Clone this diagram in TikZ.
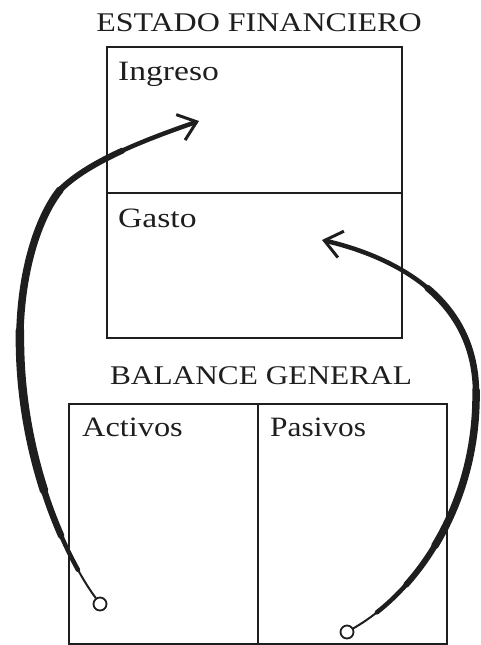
\documentclass[tikz,border=0pt]{standalone}
\usepackage{fontspec}
\setmainfont{Liberation Serif}
\usetikzlibrary{arrows.meta}
\definecolor{ink}{HTML}{1E1E1E}
\begin{document}
\begin{tikzpicture}[x=1pt,y=-1pt,
  panel/.style={draw=ink, line width=1.8pt, anchor=north west, inner sep=0pt},
  lbl/.style={anchor=base west, inner sep=0pt, text=ink, font=\fontsize{28}{30}\selectfont},
  ttl/.style={anchor=base, inner sep=0pt, text=ink, font=\fontsize{27}{30}\selectfont},
  dot/.style={circle, draw=ink, line width=1.8pt, minimum size=13pt, inner sep=0pt, fill=white},
  brush/.style={draw=ink, line cap=round, line join=round},
  tip/.style={-{Straight Barb[length=17pt, width=27pt, line width=3pt]}}
]
\useasboundingbox (0,0) rectangle (481,645);
% titles
\node[ttl] (t1) at (259,31) {\scalebox{1.185}[1]{ESTADO FINANCIERO}};
\node[ttl] (t2) at (261,384) {\scalebox{1.16}[1]{BALANCE GENERAL}};
% boxes
\node[panel, minimum width=295pt, minimum height=146pt] (ing) at (106,46) {};
\node[panel, minimum width=295pt, minimum height=145pt] (gas) at (106,192) {};
\node[panel, minimum width=189pt, minimum height=240pt] (act) at (68,403) {};
\node[panel, minimum width=189pt, minimum height=240pt] (pas) at (257,403) {};
% labels
\node[lbl] (lIng) at (118,80) {\scalebox{1.2}[1]{Ingreso}};
\node[lbl] (lGas) at (118,227) {\scalebox{1.2}[1]{Gasto}};
\node[lbl] (lAct) at (82,436) {\scalebox{1.155}[1]{Activos}};
\node[lbl] (lPas) at (270,436) {\scalebox{1.12}[1]{Pasivos}};
% endpoints
\node[dot] (c1) at (100,604) {};
\node[dot] (c2) at (347,632) {};
\coordinate (h1) at (199,121);
\coordinate (h2) at (322,240);
% joints of the left brush stroke
\coordinate (la) at (77.94,569.79);
\coordinate (lb) at (61.13,535.66);
\coordinate (lbb) at (44.03,490.48);
\coordinate (lc) at (20,330);
\coordinate (ld) at (60,190);
\coordinate (le) at (122.375,150.625);
% joints of the right brush stroke
\coordinate (ra) at (376.92,612.33);
\coordinate (rb) at (406.2,584.67);
\coordinate (rbb) at (434.86,545.71);
\coordinate (rc) at (476,390);
\coordinate (rd) at (427.5,288);
% left brush arrow (Activos -> Ingreso)
\draw[brush, line width=2pt] (c1.125) .. controls (89.85,590.15) and (83.79,580.38) .. (la);
\draw[brush, line width=4.5pt] (la) .. controls (72.09,559.2) and (66.45,547.79) .. (lb);
\draw[brush, line width=6.5pt] (lb) .. controls (54.925,521.52) and (49.16,506.4) .. (lbb);
\draw[brush, line width=8.5pt] (lbb) .. controls (28.65,442.73) and (18.95,387.73) .. (lc);
\draw[brush, line width=7.5pt] (lc) .. controls (22,265) and (40,215) .. (ld);
\draw[brush, line width=6pt] (ld) .. controls (75,175) and (97.5,162) .. (le);
\draw[brush, line width=4.5pt, tip] (le) .. controls (147.25,139.25) and (174.5,129.5) .. (h1);
% right brush arrow (Pasivos -> Gasto)
\draw[brush, line width=2pt] (c2.30) .. controls (361.4,623.7) and (369.27,618.36) .. (ra);
\draw[brush, line width=4.5pt] (ra) .. controls (387.13,604.29) and (396.96,595.03) .. (rb);
\draw[brush, line width=6pt] (rb) .. controls (416.6,573.01) and (426.25,559.96) .. (rbb);
\draw[brush, line width=7.5pt] (rbb) .. controls (460.67,502.97) and (477.08,449.4) .. (rc);
\draw[brush, line width=6.5pt] (rc) .. controls (475,345) and (456,312) .. (rd);
\draw[brush, line width=4.5pt, tip] (rd) .. controls (399,264) and (361,249) .. (h2);
\end{tikzpicture}
\end{document}
